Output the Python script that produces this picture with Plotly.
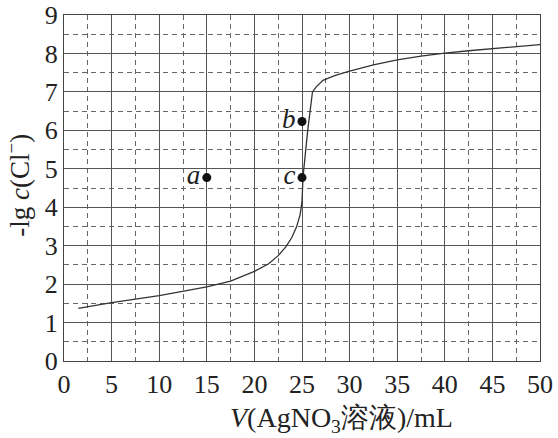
import plotly.graph_objects as go

# Titration curve data
vol = [1.5, 5, 10, 15, 17.5, 20, 21.5, 22.5, 23.3, 23.9, 24.4, 24.8, 25.0, 25.1, 25.6, 26.1, 26.5, 27.2, 28.5, 30, 32.5, 35, 37.5, 40, 42.5, 45, 47.5, 50]
neg_lg_c = [1.37, 1.52, 1.70, 1.93, 2.08, 2.33, 2.53, 2.74, 2.97, 3.2, 3.47, 3.8, 4.15, 4.77, 6.0, 7.0, 7.13, 7.3, 7.43, 7.54, 7.7, 7.83, 7.93, 8.01, 8.07, 8.12, 8.18, 8.23]

# Labelled points
pt_labels = ["a", "b", "c"]
pt_x = [15, 25, 25]
pt_y = [4.77, 6.23, 4.77]

x_ticks = [0, 5, 10, 15, 20, 25, 30, 35, 40, 45, 50]
y_ticks = [0, 1, 2, 3, 4, 5, 6, 7, 8, 9]

x_title = "<i>V</i>(AgNO<sub>3</sub>溶液)/mL"
y_title = "-lg <i>c</i>(Cl<sup>−</sup>)"

serif = "Liberation Serif"

fig = go.Figure()
fig.add_trace(go.Scatter(
    x=vol, y=neg_lg_c, mode="lines",
    line=dict(color="#333333", width=1.3),
    hoverinfo="skip", showlegend=False))
fig.add_trace(go.Scatter(
    x=pt_x, y=pt_y, mode="markers+text",
    marker=dict(color="#111111", size=9),
    text=[f"<i>{t}</i>" for t in pt_labels],
    textposition="middle left",
    textfont=dict(family=serif, size=27, color="#222222"),
    showlegend=False))

axis_common = dict(
    showline=True, linecolor="#444444", linewidth=1.2, mirror=True,
    showgrid=True, gridcolor="#555555", gridwidth=1,
    ticks="", zeroline=False, automargin=False,
    ticklabeloverflow="allow",
    tickfont=dict(family=serif, size=26, color="#222222"),
)

fig.update_xaxes(
    range=[0, 50], tickvals=x_ticks,
    minor=dict(dtick=2.5, tick0=0, showgrid=True, gridcolor="#666666",
               griddash="5px,4px", gridwidth=1),
    **axis_common)
fig.update_yaxes(
    range=[0, 9], tickvals=y_ticks,
    minor=dict(dtick=0.5, tick0=0, showgrid=True, gridcolor="#666666",
               griddash="5px,4px", gridwidth=1),
    ticklabelstandoff=0,
    **axis_common)

fig.add_annotation(
    text=x_title, xref="paper", yref="paper", x=0.582, y=-0.168,
    xanchor="center", yanchor="middle", showarrow=False,
    font=dict(family=serif, size=28, color="#222222"))
fig.add_annotation(
    text=y_title, xref="paper", yref="paper", x=-0.097, y=0.509,
    xanchor="center", yanchor="middle", showarrow=False, textangle=-90,
    font=dict(family=serif, size=27, color="#222222"))

fig.update_layout(
    width=558, height=438,
    margin=dict(l=64, r=18, t=15, b=77),
    paper_bgcolor="white", plot_bgcolor="white",
)

fig.write_html("out.html",
               config={"displayModeBar": False},
               post_script="document.body.style.margin='0';")
